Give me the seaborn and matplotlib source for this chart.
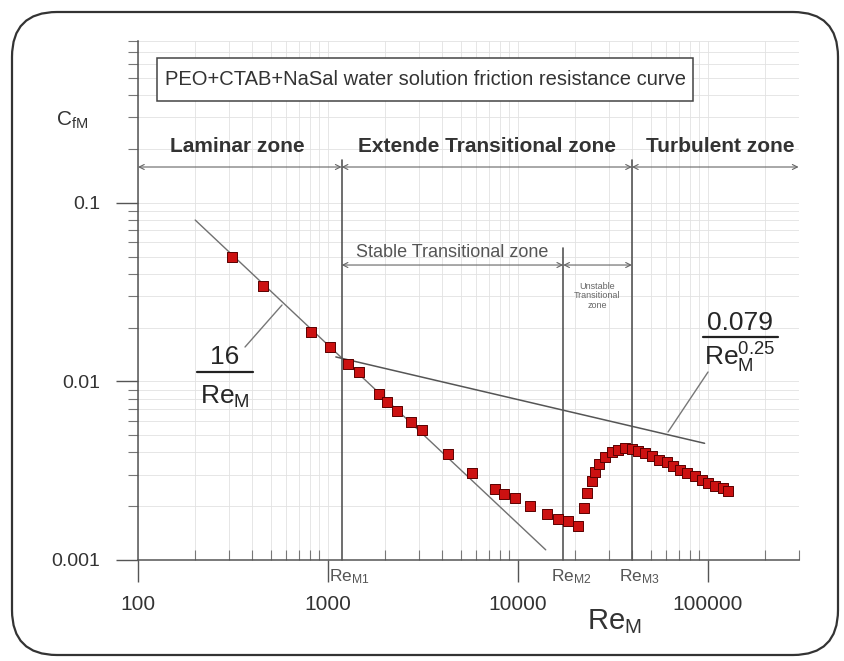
import matplotlib
matplotlib.use("Agg")
import matplotlib.pyplot as plt
import seaborn as sns
from matplotlib.patches import FancyBboxPatch, Rectangle
from matplotlib.transforms import IdentityTransform
from matplotlib.ticker import LogLocator, NullFormatter, FixedLocator, FixedFormatter

# measured friction coefficient points
re_m = [312, 455, 815, 1025, 1275, 1455, 1855, 2045, 2310, 2735,
        3125, 4285, 5730, 7570, 8440, 9640, 11560, 14210, 16250, 18340,
        20700, 22250, 23070, 24500, 25420, 26690, 28710, 31250, 33600, 36570,
        39810, 42850, 46590, 50700, 55200, 60800, 65450, 71250, 77500, 85400,
        93000, 100000, 108900, 120000, 127500]
cf_m = [0.0499, 0.0344, 0.0188, 0.0155, 0.01245, 0.01122, 0.00846, 0.00763, 0.00680, 0.00590,
        0.00532, 0.00391, 0.00306, 0.00249, 0.00234, 0.00222, 0.00200, 0.00181, 0.00169, 0.00165,
        0.00155, 0.00195, 0.00237, 0.00276, 0.00310, 0.00344, 0.00376, 0.00401, 0.00412, 0.00423,
        0.00417, 0.00406, 0.00396, 0.00381, 0.00362, 0.00353, 0.00335, 0.00318, 0.00306, 0.00294,
        0.00280, 0.00269, 0.00259, 0.00252, 0.00243]

# reference lines (end points)
lam_re = [200, 14000]
lam_cf = [0.08, 0.00114]      # 16 / Re_M
turb_re = [1100, 96000]
turb_cf = [0.0137, 0.0045]    # 0.079 / Re_M^0.25

# critical Reynolds numbers
re_crit = [1180, 17300, 39800]
re_crit_labels = ["Re$_\\mathrm{M1}$", "Re$_\\mathrm{M2}$", "Re$_\\mathrm{M3}$"]

x_ticks = [100, 1000, 10000, 100000]
x_tick_labels = ["100", "1000", "10000", "100000"]
y_ticks = [0.001, 0.01, 0.1]
y_tick_labels = ["0.001", "0.01", "0.1"]

sns.set_style("white")
plt.rcParams['font.family'] = ['Liberation Sans', 'DejaVu Sans']
plt.rcParams['mathtext.fontset'] = 'custom'
plt.rcParams['mathtext.rm'] = 'Liberation Sans'
plt.rcParams['mathtext.it'] = 'Liberation Sans:italic'
plt.rcParams['mathtext.bf'] = 'Liberation Sans:bold'

fig = plt.figure(figsize=(8.45, 6.61), dpi=100)
ax = fig.add_axes([138 / 845, 1 - 560 / 661, 660.6 / 845, 518.6 / 661])
ax.set_xscale('log')
ax.set_yscale('log')
ax.set_xlim(100, 3e5)
ax.set_ylim(0.001, 0.8)

# grid
ax.grid(True, which='both', color='#e2e2e2', lw=0.6)
ax.set_axisbelow(True)

# theory lines
sns.lineplot(x=lam_re, y=lam_cf, color='#707070', lw=1.0, ax=ax, zorder=3)
sns.lineplot(x=turb_re, y=turb_cf, color='#555555', lw=1.1, ax=ax, zorder=3)

# measured points
sns.scatterplot(x=re_m, y=cf_m, marker='s', s=62, color='#cc1111',
                edgecolor='#5a0000', linewidth=0.7, ax=ax, zorder=5)

# critical lines
tr = ax.get_xaxis_transform()
tops = [0.7713, 0.6016, 0.7713]
for r, t in zip(re_crit, tops):
    ax.plot([r, r], [0, t], transform=tr, color='#555555', lw=1.2, zorder=4, clip_on=False)
for r, lab in zip(re_crit, re_crit_labels):
    ax.text(r * 1.1, -0.033, lab, transform=tr, ha='center', va='center',
            fontsize=12.5, color='#555555')

# zone arrows
arrow_kw = dict(arrowstyle='<->', color='#666666', lw=0.8, shrinkA=0, shrinkB=0,
                mutation_scale=9)
top_bounds = [100, re_crit[0], re_crit[2], 3e5]
for a, b in zip(top_bounds[:-1], top_bounds[1:]):
    ax.annotate('', xy=(b, 0.7578), xytext=(a, 0.7578),
                xycoords=('data', 'axes fraction'), textcoords=('data', 'axes fraction'),
                arrowprops=arrow_kw, annotation_clip=False)
for a, b in [(re_crit[0], re_crit[1]), (re_crit[1], re_crit[2])]:
    ax.annotate('', xy=(b, 0.5688), xytext=(a, 0.5688),
                xycoords=('data', 'axes fraction'), textcoords=('data', 'axes fraction'),
                arrowprops=arrow_kw)

ax.text(0.15, 0.7964, "Laminar zone", transform=ax.transAxes, ha='center', va='center',
        fontsize=15, fontweight='bold', color='#333333')
ax.text(0.5283, 0.7964, "Extende Transitional zone", transform=ax.transAxes, ha='center',
        va='center', fontsize=15, fontweight='bold', color='#333333')
ax.text(0.8810, 0.7964, "Turbulent zone", transform=ax.transAxes, ha='center', va='center',
        fontsize=15, fontweight='bold', color='#333333')
ax.text(0.4753, 0.592, "Stable Transitional zone", transform=ax.transAxes, ha='center',
        va='center', fontsize=13, color='#555555')
ax.text(0.6948, 0.5091, "Unstable\nTransitional\nzone", transform=ax.transAxes, ha='center',
        va='center', fontsize=6.5, color='#666666', linespacing=1.1)

# title box
ax.add_patch(Rectangle((0.0288, 0.885), 0.8114, 0.0829, transform=ax.transAxes,
                       fill=True, fc='white', ec='#444444', lw=1.1, zorder=6))
ax.text(0.4345, 0.9256, "PEO+CTAB+NaSal water solution friction resistance curve",
        transform=ax.transAxes, ha='center', va='center', fontsize=14.5, color='#333333',
        zorder=7)

# formula labels
ax.text(0.1317, 0.3914, "16", transform=ax.transAxes, ha='center', va='center', fontsize=19)
ax.plot([0.0893, 0.1741], [0.3625, 0.3625], transform=ax.transAxes, color='#222222', lw=1.6)
ax.text(0.1317, 0.3143, "Re$_\\mathrm{M}$", transform=ax.transAxes, ha='center', va='center',
        fontsize=19)
ax.plot([0.162, 0.218], [0.4107, 0.4917], transform=ax.transAxes, color='#777777', lw=1.0)

ax.text(0.9113, 0.457, "0.079", transform=ax.transAxes, ha='center', va='center', fontsize=19)
ax.plot([0.8553, 0.9688], [0.43, 0.43], transform=ax.transAxes, color='#222222', lw=1.6)
ax.text(0.9113, 0.3895, "Re$_\\mathrm{M}^{0.25}$", transform=ax.transAxes, ha='center',
        va='center', fontsize=19)
ax.plot([0.8629, 0.8023], [0.3625, 0.2468], transform=ax.transAxes, color='#777777', lw=1.0)

# axes styling
sns.despine(ax=ax, top=True, right=True)
ax.spines['left'].set_color('#555555')
ax.spines['bottom'].set_color('#555555')
ax.spines['left'].set_linewidth(1.1)
ax.spines['bottom'].set_linewidth(1.1)

ax.xaxis.set_major_locator(FixedLocator(x_ticks))
ax.xaxis.set_major_formatter(FixedFormatter(x_tick_labels))
ax.xaxis.set_minor_locator(LogLocator(base=10, subs=range(2, 10), numticks=20))
ax.xaxis.set_minor_formatter(NullFormatter())
ax.yaxis.set_major_locator(FixedLocator(y_ticks))
ax.yaxis.set_major_formatter(FixedFormatter(y_tick_labels))
ax.yaxis.set_minor_locator(LogLocator(base=10, subs=range(2, 10), numticks=20))
ax.yaxis.set_minor_formatter(NullFormatter())

ax.tick_params(axis='x', which='both', bottom=True)
ax.tick_params(axis='y', which='both', left=True)
ax.tick_params(axis='x', which='major', direction='out', length=16, width=1.0,
               color='#555555', pad=9, labelsize=15, labelcolor='#333333')
ax.tick_params(axis='x', which='minor', direction='in', length=7, width=0.8, color='#777777')
ax.tick_params(axis='y', which='major', direction='out', length=16, width=1.0,
               color='#555555', pad=11, labelsize=14, labelcolor='#333333')
ax.tick_params(axis='y', which='minor', direction='out', length=7, width=0.8, color='#777777')
ax.set_xlabel('')
ax.set_ylabel('')

fig.text(72 / 845, 1 - 120 / 661, "C$_\\mathrm{fM}$", fontsize=15, ha='center', va='center',
         color='#333333')
fig.text(614 / 845, 1 - 622 / 661, "Re$_\\mathrm{M}$", fontsize=21, ha='center', va='center',
         color='#333333')

# rounded frame around the figure
fig.patches.append(FancyBboxPatch((12, 6), 826, 643, boxstyle="round,pad=0,rounding_size=45",
                                  transform=IdentityTransform(), fill=False, lw=1.6,
                                  ec='#333333'))

fig.savefig("out.png", dpi=100)
